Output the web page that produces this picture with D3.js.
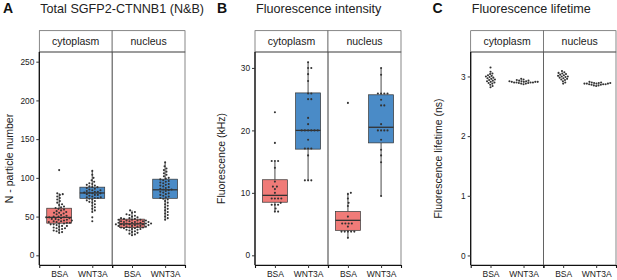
<!DOCTYPE html>
<html>
<head>
<meta charset="utf-8">
<script src="https://cdn.jsdelivr.net/npm/d3@7"></script>
<style>
  body { margin: 0; background: #fff; }
  svg { font-family: "Liberation Sans", Arial, sans-serif; }
</style>
</head>
<body>
<div id="chart"></div>
<script>
// ---- data ----
var treatments = ["BSA", "WNT3A"];
var compartments = ["cytoplasm", "nucleus"];

// A: N - particle number
var nbCytoBSA = [110, 80, 79, 78, 76, 74, 72, 70, 68, 66, 65, 63, 62, 61, 60, 59, 58, 57, 56, 55,
  55, 54, 53, 52, 51, 50, 50, 49, 49, 49, 48, 48, 47, 47, 46, 46, 45, 45, 44, 44,
  43, 43, 42, 42, 41, 41, 40, 40, 39, 38, 38, 37, 36, 35, 35, 34, 33, 32, 31, 30, 29];
var nbCytoWNT = [109, 104, 100, 97, 95, 93, 92, 91, 90, 89, 88, 88, 87, 86, 85, 84, 84, 83, 82, 82,
  81, 81, 80, 80, 79, 78, 78, 77, 76, 75, 75, 74, 74, 73, 72, 71, 70, 69, 68, 66,
  64, 62, 60, 58, 56, 49, 44];
var nbNucBSA = [58, 56, 55, 53, 52, 51, 50, 49, 48, 48, 47, 47, 46, 46, 46, 45, 45, 45, 44, 44,
  44, 43, 43, 43, 42, 42, 42, 41, 41, 41, 41, 40, 40, 40, 40, 39, 39, 39, 38, 38,
  38, 37, 37, 37, 36, 36, 36, 35, 35, 34, 34, 33, 33, 32, 31, 30, 29, 28, 27, 26];
var nbNucWNT = [120, 115, 112, 110, 108, 106, 104, 102, 100, 99, 98, 97, 96, 95, 94, 93, 92, 91, 90, 89,
  88, 87, 86, 85, 85, 84, 83, 82, 81, 80, 79, 78, 77, 76, 75, 74, 73, 72, 70, 68,
  66, 64, 62, 60, 58, 56, 54, 52, 50, 48, 46];
// box stats: [lower whisker, q1, median, q3, upper whisker]
var nbBoxes = [[29, 41.5, 49, 60.8, 80], [56, 73.6, 80.5, 88, 109], [26, 35.9, 40.6, 46.7, 58], [46, 73.6, 84.6, 98.3, 120]];
var nbTicks = [0, 50, 100, 150, 200, 250];

// B: fluorescence intensity (kHz)
var fiCytoBSA = [22.9, 18.0, 15.1, 15.1, 15.1, 14.0, 11.8, 11.0, 11.0, 10.6, 10.0, 9.1, 9.1, 9.1, 9.1, 8.4, 8.1, 8.1, 8.1, 7.5, 7.0, 7.0];
var fiCytoWNT = [30.9, 30.0, 30.0, 29.0, 27.9, 25.9, 25.9, 25.0, 25.0, 22.0, 21.0, 20.0, 20.0, 20.0, 20.0, 20.0, 20.0, 18.5, 17.1, 17.1, 17.1, 16.0, 12.0, 12.0, 12.0];
var fiNucBSA = [24.4, 10.0, 9.8, 9.1, 8.4, 7.9, 6.2, 5.1, 5.1, 5.1, 5.1, 4.6, 3.8, 3.8, 3.8, 3.8, 3.8, 2.8];
var fiNucWNT = [30.0, 28.9, 25.9, 25.9, 25.9, 25.9, 24.9, 24.0, 24.0, 21.0, 20.0, 20.0, 20.0, 20.0, 18.5, 16.9, 16.0, 14.9, 9.5];
var fiBoxes = [[7, 8.5, 9.6, 12.1, 15], [12, 17, 20, 26, 31], [2.8, 4, 5.6, 7, 10], [9.5, 18, 20.5, 25.7, 30]];
var fiTicks = [0, 10, 20, 30];

// C: fluorescence lifetime (ns)
var ltCytoBSA = [3.15, 3.08, 3.05, 3.04, 3.02, 3.01, 3.0, 2.99, 2.98, 2.97, 2.96, 2.95, 2.94, 2.93, 2.92, 2.91, 2.9, 2.89, 2.88, 2.86, 2.84, 2.82];
var ltCytoWNT = [2.96, 2.95, 2.94, 2.93, 2.93, 2.92, 2.92, 2.92, 2.91, 2.91, 2.91, 2.91, 2.9, 2.9, 2.9, 2.9, 2.89, 2.89, 2.88, 2.88, 2.87];
var ltNucBSA = [3.09, 3.07, 3.06, 3.05, 3.04, 3.03, 3.02, 3.01, 3.0, 3.0, 2.99, 2.98, 2.97, 2.96, 2.95, 2.94, 2.92, 2.9, 2.88];
var ltNucWNT = [2.91, 2.9, 2.9, 2.89, 2.89, 2.89, 2.88, 2.88, 2.88, 2.88, 2.87, 2.87, 2.87, 2.86, 2.86, 2.85, 2.85, 2.84];
var ltTicks = [0, 1, 2, 3];

var fills = {"BSA": "#F07B78", "WNT3A": "#4A8BC7"};

var svg = d3.select("#chart").append("svg")
    .attr("width", 617)
    .attr("height", 280);

// compact beeswarm: offsets in px for each value
function swarm(vals, y, d) {
    var order = d3.range(vals.length).sort(function(a, b) { return d3.ascending(vals[a], vals[b]); });
    var placed = [], xs = new Array(vals.length);
    order.forEach(function(i) {
        var py = y(vals[i]);
        var cands = [0];
        placed.forEach(function(p) {
            var dy = Math.abs(p.y - py);
            if (dy < d) {
                var dx = Math.sqrt(d * d - dy * dy);
                cands.push(p.x + dx + 0.01, p.x - dx - 0.01);
            }
        });
        cands.sort(function(a, b) { return Math.abs(a) - Math.abs(b); });
        var best = 0;
        for (var k = 0; k < cands.length; k++) {
            var c = cands[k];
            var ok = placed.every(function(p) {
                var dx = p.x - c, dy = p.y - py;
                return dx * dx + dy * dy >= d * d - 0.001;
            });
            if (ok) { best = c; break; }
        }
        placed.push({x: best, y: py});
        xs[i] = best;
    });
    return xs;
}

function panel(cfg) {
    var top = 30.7, stripB = 52, bottom = 265;
    var g = svg.append("g");
    var y = d3.scaleLinear().domain(cfg.domain).range([bottom, stripB]);
    var facetW = (cfg.right - cfg.left) / 2;

    // letter + title
    g.append("text").attr("x", cfg.letterX).attr("y", 12.5)
        .style("font-size", "14px").style("font-weight", "bold").attr("fill", "#111")
        .text(cfg.letter);
    g.append("text").attr("x", cfg.left + 1).attr("y", 12.5)
        .style("font-size", "12.6px").attr("fill", "#222")
        .text(cfg.title);

    compartments.forEach(function(comp, ci) {
        var x0 = cfg.left + ci * facetW;
        var x = d3.scalePoint().domain(treatments).range([x0, x0 + facetW]).padding(0.6);
        var step = x.step();

        // strip
        g.append("rect").attr("x", x0).attr("y", top).attr("width", facetW).attr("height", stripB - top)
            .attr("fill", "#fff").attr("stroke", "#555").attr("stroke-width", 0.7);
        g.append("text").attr("x", x0 + facetW / 2).attr("y", (top + stripB) / 2 + 3.7)
            .attr("text-anchor", "middle").style("font-size", "10.5px").attr("fill", "#1a1a1a")
            .text(comp);
        // panel border
        g.append("rect").attr("x", x0).attr("y", stripB).attr("width", facetW).attr("height", bottom - stripB)
            .attr("fill", "none").attr("stroke", "#555").attr("stroke-width", 0.7);

        treatments.forEach(function(tr, ti) {
            var gi = ci * 2 + ti;
            var cx = x(tr);
            var vals = cfg.points[gi];
            if (cfg.boxes) {
                var b = cfg.boxes[gi];
                var bw = step * 0.75;
                g.append("line").attr("x1", cx).attr("x2", cx).attr("y1", y(b[0])).attr("y2", y(b[1]))
                    .attr("stroke", "#666").attr("stroke-width", 1.2);
                g.append("line").attr("x1", cx).attr("x2", cx).attr("y1", y(b[3])).attr("y2", y(b[4]))
                    .attr("stroke", "#666").attr("stroke-width", 1.2);
                g.append("rect").attr("x", cx - bw / 2).attr("y", y(b[3]))
                    .attr("width", bw).attr("height", y(b[1]) - y(b[3]))
                    .attr("fill", fills[tr]).attr("stroke", "#333").attr("stroke-width", 0.7);
                g.append("line").attr("x1", cx - bw / 2).attr("x2", cx + bw / 2)
                    .attr("y1", y(b[2])).attr("y2", y(b[2]))
                    .attr("stroke", "#333").attr("stroke-width", 1.3);
            }
            var offs = swarm(vals, y, cfg.spacing);
            g.selectAll(null).data(vals).enter().append("circle")
                .attr("cx", function(d, i) { return cx + offs[i]; })
                .attr("cy", function(d) { return y(d); })
                .attr("r", 1.05)
                .attr("fill", "#333");
        });

        // x axis
        var ax = g.append("g").attr("transform", "translate(0," + bottom + ")")
            .call(d3.axisBottom(x).tickSize(3).tickPadding(2.5));
        ax.select(".domain").attr("stroke", "#111").attr("stroke-width", 1.1);
        ax.selectAll(".tick line").attr("stroke", "#333");
        ax.selectAll("text").style("font-size", "8.5px").attr("fill", "#1a1a1a")
            .style("font-family", "Liberation Sans, Arial, sans-serif");
    });

    // y axis
    var ay = g.append("g").attr("transform", "translate(" + cfg.left + ",0)")
        .call(d3.axisLeft(y).tickValues(cfg.ticks).tickFormat(d3.format("d")).tickSize(3).tickPadding(2));
    ay.select(".domain").attr("d", "M0," + stripB + "V" + bottom)
        .attr("stroke", "#111").attr("stroke-width", 1.3);
    ay.selectAll(".tick line").attr("stroke", "#333");
    ay.selectAll("text").style("font-size", "8.3px").attr("fill", "#1a1a1a")
        .style("font-family", "Liberation Sans, Arial, sans-serif");

    g.append("text")
        .attr("transform", "translate(" + cfg.ytitleX + "," + ((stripB + bottom) / 2) + ") rotate(-90)")
        .attr("text-anchor", "middle").style("font-size", "10.5px").attr("fill", "#1a1a1a")
        .text(cfg.ytitle);
}

panel({
    letter: "A", letterX: 3, title: "Total SGFP2-CTNNB1 (N&B)",
    left: 39.3, right: 185, domain: [-12.5, 262.5], ticks: nbTicks,
    points: [nbCytoBSA, nbCytoWNT, nbNucBSA, nbNucWNT], boxes: nbBoxes,
    spacing: 3.0, ytitle: "N - particle number", ytitleX: 12.5
});
panel({
    letter: "B", letterX: 217, title: "Fluorescence intensity",
    left: 255, right: 401, domain: [-1.55, 32.55], ticks: fiTicks,
    points: [fiCytoBSA, fiCytoWNT, fiNucBSA, fiNucWNT], boxes: fiBoxes,
    spacing: 3.2, ytitle: "Fluorescence (kHz)", ytitleX: 225
});
panel({
    letter: "C", letterX: 432.5, title: "Fluorescence lifetime",
    left: 470.7, right: 616, domain: [-0.16, 3.41], ticks: ltTicks,
    points: [ltCytoBSA, ltCytoWNT, ltNucBSA, ltNucWNT], boxes: null,
    spacing: 2.4, ytitle: "Fluorescence lifetime (ns)", ytitleX: 441.5
});
</script>
</body>
</html>
